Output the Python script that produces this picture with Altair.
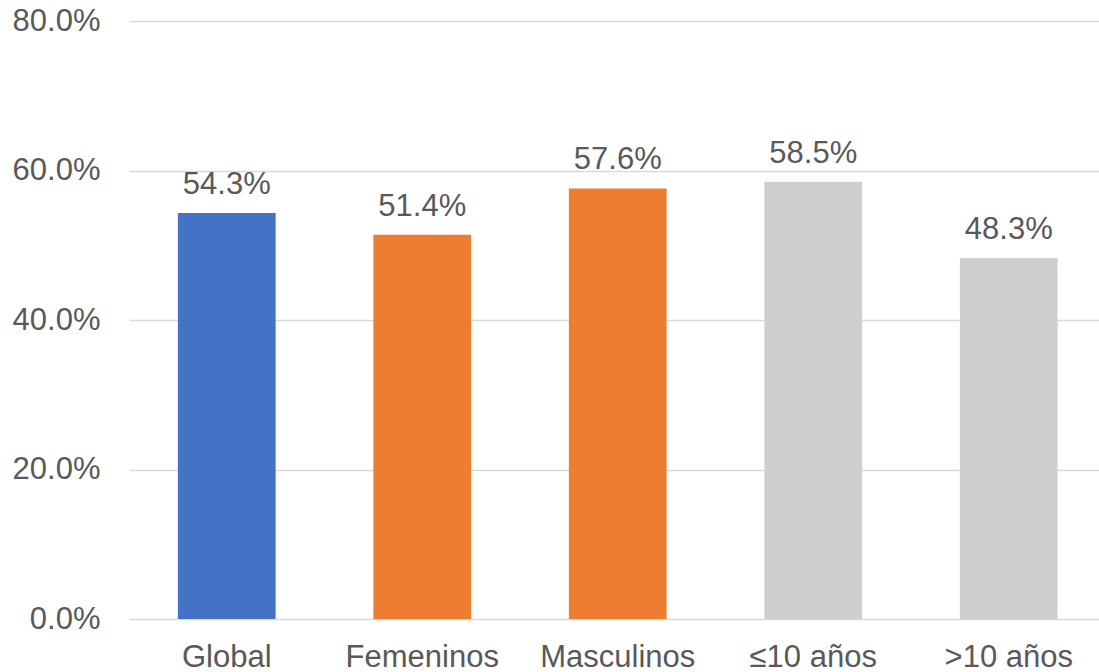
import altair as alt
import pandas as pd

# Share of respondents per group
categories = ["Global", "Femeninos", "Masculinos", "≤10 años", ">10 años"]
values = [0.543, 0.514, 0.576, 0.585, 0.483]
groups = ["global", "sexo", "sexo", "edad", "edad"]

df = pd.DataFrame({"categoria": categories, "valor": values, "grupo": groups})

FONT = "Liberation Sans"
TEXT = "#595959"

color = alt.Color(
    "grupo:N",
    scale=alt.Scale(domain=["global", "sexo", "edad"],
                    range=["#4472C4", "#ED7D31", "#D0CECE"]),
    legend=None,
)

x = alt.X(
    "categoria:N",
    sort=categories,
    scale=alt.Scale(paddingInner=0.5, paddingOuter=0.25, range=[0, 977.5]),
    axis=alt.Axis(title=None, labelAngle=0, domain=False, ticks=False, tickSize=0,
                  grid=False, labelPadding=23, labelFont=FONT, labelFontSize=31,
                  labelColor=TEXT, labelBaseline="top"),
)
y = alt.Y(
    "valor:Q",
    scale=alt.Scale(domain=[0, 0.8], nice=False),
    axis=alt.Axis(title=None, format=".1%", values=[0, 0.2, 0.4, 0.6, 0.8],
                  domain=False, ticks=False, tickSize=0, labelPadding=29,
                  labelFont=FONT, labelFontSize=31, labelColor=TEXT,
                  gridColor="#D9D9D9", gridWidth=1.5),
)

bars = alt.Chart(df).mark_bar().encode(x=x, y=y, color=color)

labels = alt.Chart(df).mark_text(
    font=FONT, fontSize=31, color=TEXT, baseline="alphabetic", dy=-19
).encode(x=alt.X("categoria:N", sort=categories), y="valor:Q",
         text=alt.Text("valor:Q", format=".1%"))

chart = (
    alt.layer(bars, labels)
    .properties(width=969, height=598, background="white",
                autosize=alt.AutoSizeParams(type="none"),
                padding={"left": 129, "top": 21, "right": 1, "bottom": 53})
    .configure_view(strokeWidth=0, stroke="transparent")
    .configure_axis(domain=False, ticks=False)
)

chart.save("out.html", embed_options={"renderer": "svg", "actions": False})
